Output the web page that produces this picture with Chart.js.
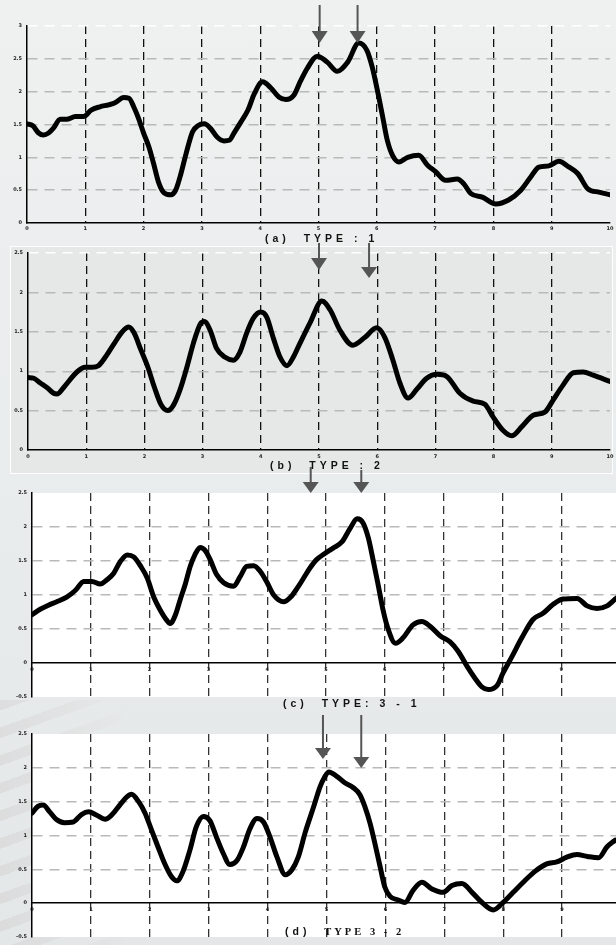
<!DOCTYPE html>
<html>
<head>
<meta charset="utf-8">
<script src="https://cdn.jsdelivr.net/npm/chart.js@4.4.1/dist/chart.umd.min.js"></script>
<style>
html, body { margin: 0; padding: 0; }
#page { position: relative; width: 616px; height: 945px; overflow: hidden;
  background: linear-gradient(180deg, #eff1f1 0%, #eaeded 45%, #e4e7e7 100%); }
#stripes { position: absolute; left: 0; top: 700px; width: 130px; height: 245px;
  background: repeating-linear-gradient(160deg, rgba(175,160,165,0.16) 0 10px, rgba(255,255,255,0) 10px 26px);
  -webkit-mask-image: linear-gradient(90deg, #000 0%, rgba(0,0,0,0) 100%);
  mask-image: linear-gradient(90deg, #000 0%, rgba(0,0,0,0) 100%); }
#boxB { position: absolute; left: 10px; top: 246px; width: 601px; height: 226px;
  border: 1px solid #fff; background: #e6e8e8; }
canvas { position: absolute; left: 0; }
.ttl { position: absolute; font: bold 10.5px "Liberation Sans", Arial, sans-serif;
  letter-spacing: 4px; white-space: pre; color: #111; line-height: 12px; }
.serif { font-family: "Liberation Serif", serif; letter-spacing: 3px; }
</style>
</head>
<body>
<div id="page">
  <div id="stripes"></div>
  <div id="boxB"></div>
  <canvas id="cA" width="630" height="236" style="top:0px"></canvas>
  <canvas id="cB" width="630" height="232" style="top:240px"></canvas>
  <canvas id="cC" width="630" height="240" style="top:466px"></canvas>
  <canvas id="cD" width="630" height="237" style="top:708px"></canvas>
  <div class="ttl" style="left:265px; top:232px">(a)  TYPE : 1</div>
  <div class="ttl" style="left:270px; top:459px">(b)  TYPE : 2</div>
  <div class="ttl" style="left:283px; top:697px">(c)  TYPE: 3 - 1</div>
  <div class="ttl" style="left:285px; top:925px">(d)  <span class="serif">TYPE 3 - 2</span></div>
</div>
<script>
// tick values
var xTicks = [0, 1, 2, 3, 4, 5, 6, 7, 8, 9, 10];
var yTicksA = [0, 0.5, 1, 1.5, 2, 2.5, 3];
var yTicksB = [0, 0.5, 1, 1.5, 2, 2.5];
var yTicksCD = [-0.5, 0, 0.5, 1, 1.5, 2, 2.5];

// (a) TYPE : 1
var xA = [0,0.1,0.2,0.28,0.37,0.45,0.57,0.68,0.83,0.97, 1.1,1.25,1.4,1.51,1.66,1.75,1.83,1.91,
  2.0,2.09,2.17,2.26,2.35,2.47,2.55,2.64,2.73,2.84,2.93, 3.04,3.15,3.26,3.38,3.47,3.55,3.67,3.79,3.9,
  4.04,4.18,4.32,4.44,4.58,4.69,4.81,4.98, 5.15,5.32,5.5,5.69,5.83,5.92,
  6.01,6.1,6.18,6.27,6.38,6.53,6.72,6.87, 7.01,7.18,7.38,7.49,7.61,7.82,
  8.04,8.26,8.47,8.64,8.78,8.95, 9.12,9.3,9.45,9.62,9.81,10];
var yA = [1.51,1.48,1.37,1.34,1.37,1.44,1.58,1.58,1.62,1.62, 1.72,1.77,1.80,1.83,1.91,1.90,1.77,1.60,
  1.37,1.16,0.91,0.61,0.46,0.43,0.50,0.75,1.06,1.39,1.48, 1.51,1.44,1.31,1.25,1.26,1.37,1.54,1.72,1.97,
  2.15,2.06,1.92,1.88,1.95,2.16,2.36,2.54, 2.45,2.31,2.45,2.74,2.63,2.38,
  2.02,1.62,1.26,1.03,0.93,1.0,1.03,0.88, 0.78,0.65,0.67,0.60,0.45,0.39,
  0.29,0.35,0.50,0.70,0.85,0.87, 0.94,0.85,0.75,0.52,0.47,0.43];
var arrowsA = [5.02, 5.67];

// (b) TYPE : 2
var xB = [0,0.1,0.21,0.33,0.44,0.5,0.61,0.72,0.84,0.98, 1.1,1.21,1.33,1.48,1.62,1.73,1.82,1.94,
  2.06,2.17,2.29,2.4,2.5,2.61,2.73,2.84,2.96, 3.03,3.13,3.24,3.38,3.53,3.64,3.76,3.87,
  4.0,4.1,4.22,4.33,4.45,4.56,4.67,4.85, 5.05,5.19,5.36,5.58,5.79,5.99,
  6.13,6.27,6.39,6.53,6.68,6.85, 7.03,7.2,7.42,7.65,7.85,7.99,
  8.16,8.31,8.49,8.68,8.88, 9.02,9.19,9.37,9.54,9.71,10];
var yB = [0.92,0.91,0.85,0.79,0.72,0.71,0.79,0.89,0.99,1.05, 1.05,1.07,1.18,1.35,1.50,1.56,1.49,1.27,
  1.05,0.80,0.57,0.50,0.57,0.76,1.05,1.35,1.60, 1.63,1.52,1.29,1.18,1.14,1.24,1.49,1.67,
  1.75,1.69,1.41,1.18,1.07,1.18,1.35,1.62, 1.89,1.78,1.52,1.33,1.43,1.55,
  1.43,1.14,0.85,0.66,0.77,0.91, 0.96,0.93,0.72,0.62,0.58,0.42,
  0.25,0.18,0.30,0.44,0.48, 0.63,0.82,0.98,0.99,0.95,0.87];
var arrowsB = [5.0, 5.86];

// (c) TYPE: 3 - 1
var xC = [0,0.14,0.28,0.42,0.59,0.74,0.88, 1.02,1.16,1.27,1.39,1.5,1.62,1.73,1.85,1.96,
  2.07,2.18,2.29,2.35,2.44,2.52,2.61,2.69,2.77,2.86,2.94, 3.03,3.14,3.26,3.43,3.54,3.65,3.77,3.88,
  4.0,4.11,4.28,4.4,4.51,4.62,4.73,4.84,4.98, 5.12,5.27,5.41,5.53,5.63,5.72,5.8,5.88,5.97,
  6.06,6.18,6.31,6.48,6.63,6.77,6.94, 7.11,7.25,7.4,7.53,7.65,7.76,7.91,
  8.01,8.16,8.33,8.52,8.69,8.86, 9.03,9.27,9.44,9.61,9.78,9.92,10];
var yC = [0.71,0.79,0.85,0.90,0.97,1.07,1.20, 1.20,1.16,1.22,1.32,1.49,1.59,1.56,1.42,1.25,
  0.97,0.78,0.63,0.58,0.71,0.93,1.17,1.42,1.59,1.70,1.66, 1.52,1.30,1.18,1.13,1.27,1.42,1.43,1.35,
  1.18,1.0,0.90,0.97,1.10,1.25,1.40,1.52,1.61, 1.69,1.78,1.98,2.12,2.06,1.84,1.52,1.18,0.78,
  0.49,0.29,0.37,0.56,0.61,0.54,0.40, 0.31,0.17,-0.05,-0.22,-0.35,-0.39,-0.33,
  -0.15,0.09,0.37,0.64,0.73,0.86, 0.94,0.95,0.84,0.80,0.84,0.94,0.99];
var arrowsC = [4.74, 5.6];

// (d) TYPE 3 - 2
var xD = [0,0.1,0.19,0.3,0.41,0.55,0.7,0.84,0.96, 1.1,1.24,1.35,1.5,1.61,1.69,1.81,1.92,
  2.03,2.14,2.25,2.37,2.46,2.56,2.68,2.79,2.91, 3.02,3.13,3.25,3.36,3.48,3.59,3.7,3.82,3.93,
  4.04,4.16,4.3,4.41,4.52,4.64,4.78,4.89,4.96, 5.04,5.18,5.31,5.45,5.57,5.65,5.74,5.82,5.91,5.99,
  6.08,6.21,6.33,6.47,6.62,6.79,6.98, 7.13,7.3,7.47,7.64,7.83,
  8.0,8.17,8.34,8.54,8.74,8.91, 9.08,9.25,9.43,9.62,9.76,9.9];
var yD = [1.33,1.43,1.45,1.35,1.24,1.19,1.20,1.31,1.35, 1.30,1.24,1.30,1.46,1.57,1.61,1.50,1.33,
  1.08,0.83,0.59,0.39,0.33,0.46,0.78,1.13,1.28, 1.22,0.98,0.73,0.57,0.63,0.83,1.10,1.25,1.20,
  0.98,0.68,0.42,0.49,0.68,1.05,1.42,1.72,1.85, 1.94,1.87,1.78,1.71,1.60,1.43,1.18,0.89,0.54,0.24,
  0.10,0.05,0.01,0.19,0.31,0.21,0.16, 0.26,0.29,0.16,0.01,-0.10,
  0.01,0.16,0.31,0.47,0.58,0.61, 0.68,0.72,0.69,0.67,0.83,0.93];
var arrowsD = [4.94, 5.59];

var tickFont = { size: 5, weight: 'bold', family: 'DejaVu Sans' };

// white plot background for c / d
var plotBg = {
  id: 'plotBg',
  beforeDraw: function (chart, args, opts) {
    if (!opts.color) return;
    var a = chart.chartArea, ctx = chart.ctx;
    ctx.save();
    ctx.fillStyle = opts.color;
    ctx.fillRect(a.left, a.top, a.right - a.left, a.bottom - a.top);
    ctx.restore();
  }
};

// grey down arrows
var arrows = {
  id: 'arrows',
  afterDraw: function (chart, args, opts) {
    if (!opts.xs) return;
    var ctx = chart.ctx;
    ctx.save();
    ctx.strokeStyle = '#555';
    ctx.fillStyle = '#555';
    ctx.lineWidth = 2;
    opts.xs.forEach(function (v, i) {
      var px = chart.scales.x.getPixelForValue(v);
      ctx.beginPath();
      ctx.moveTo(px, opts.top[i]);
      ctx.lineTo(px, opts.head[i] + 1);
      ctx.stroke();
      ctx.beginPath();
      ctx.moveTo(px - 8, opts.head[i]);
      ctx.lineTo(px + 8, opts.head[i]);
      ctx.lineTo(px, opts.tip[i]);
      ctx.closePath();
      ctx.fill();
    });
    ctx.restore();
  }
};

function makePanel(id, xs, ys, p) {
  var pts = xs.map(function (x, i) { return { x: x, y: ys[i] }; });
  var yt = p.yTicks;
  var xScale = {
    type: 'linear', min: 0, max: 10,
    afterBuildTicks: function (s) { s.ticks = xTicks.map(function (v) { return { value: v }; }); },
    afterFit: function (s) { s.height = p.xHeight; },
    ticks: { font: tickFont, color: '#222', padding: p.xPad, maxRotation: 0, autoSkip: false,
      callback: function (v) { return String(v); } },
    grid: { drawTicks: false, lineWidth: 1.3,
      color: function (c) { return (c.tick.value === 0 || c.tick.value === 10) ? 'rgba(0,0,0,0)' : p.vColor; } },
    border: { display: true, color: '#000', width: 1.5, dash: [8, 5] }
  };
  if (p.axisAtZero) xScale.position = { y: 0 };
  new Chart(document.getElementById(id), {
    type: 'line',
    data: { datasets: [{ data: pts, borderColor: '#000', borderWidth: 5, pointRadius: 0,
      cubicInterpolationMode: 'monotone', fill: false, borderJoinStyle: 'round', borderCapStyle: 'round' }] },
    options: {
      responsive: false, animation: false, parsing: false,
      layout: { padding: { left: 0, right: p.padR, top: p.padT, bottom: p.padB } },
      plugins: { legend: { display: false }, tooltip: { enabled: false },
        plotBg: { color: p.bg }, arrows: p.arrows },
      scales: {
        x: xScale,
        y: {
          type: 'linear', min: yt[0], max: yt[yt.length - 1],
          afterBuildTicks: function (s) { s.ticks = yt.map(function (v) { return { value: v }; }); },
          afterFit: function (s) { s.width = p.yWidth; },
          ticks: { font: tickFont, color: '#222', padding: 5, callback: function (v) { return String(v); } },
          grid: { drawTicks: false, lineWidth: 1.4,
            color: function (c) {
              var v = c.tick.value;
              if (v === yt[yt.length - 1]) return p.topColor;
              if (v <= 0) return 'rgba(0,0,0,0)';
              return '#b8baba';
            } },
          border: { display: true, color: '#000', width: 1.5, dash: [10, 7] }
        }
      }
    },
    plugins: [plotBg, arrows]
  });
}

makePanel('cA', xA, yA, { yTicks: yTicksA, padT: 26, padR: 20, padB: 0, yWidth: 27, xHeight: 13, xPad: 3,
  vColor: '#111', topColor: '#ffffff', bg: null,
  arrows: { xs: arrowsA, top: [5, 5], head: [31, 31], tip: [43, 43] } });
makePanel('cB', xB, yB, { yTicks: yTicksB, padT: 13, padR: 20, padB: 0, yWidth: 28, xHeight: 22, xPad: 4,
  vColor: '#111', topColor: '#ffffff', bg: null,
  arrows: { xs: arrowsB, top: [3, 3], head: [18, 27], tip: [30, 38] } });
makePanel('cC', xC, yC, { yTicks: yTicksCD, padT: 27, padR: 10, padB: 9, yWidth: 32, xHeight: 0, xPad: 4,
  axisAtZero: true, vColor: '#333', topColor: 'rgba(0,0,0,0)', bg: '#ffffff',
  arrows: { xs: arrowsC, top: [1, 4], head: [16, 16], tip: [27, 27] } });
makePanel('cD', xD, yD, { yTicks: yTicksCD, padT: 26, padR: 9, padB: 8, yWidth: 32, xHeight: 0, xPad: 4,
  axisAtZero: true, vColor: '#333', topColor: 'rgba(0,0,0,0)', bg: '#ffffff',
  arrows: { xs: arrowsD, top: [7, 7], head: [40, 49], tip: [51, 60] } });
</script>
</body>
</html>
